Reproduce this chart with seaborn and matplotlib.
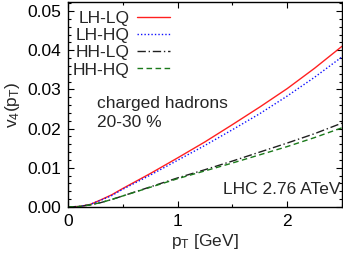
import matplotlib
matplotlib.use("Agg")
import matplotlib.pyplot as plt
import seaborn as sns
import pandas as pd
from matplotlib.ticker import MultipleLocator, FormatStrFormatter

pt = [0.0, 0.1, 0.2, 0.3, 0.4, 0.5, 0.75, 1.0, 1.25, 1.5, 1.75, 2.0, 2.25, 2.5]
lh_lq = [0.0, 0.0001, 0.0006, 0.0018, 0.0031, 0.0047, 0.0085, 0.0125, 0.0166, 0.0210, 0.0255, 0.0302, 0.0354, 0.0410]
lh_hq = [0.0, 0.0001, 0.0006, 0.0017, 0.0029, 0.0045, 0.0081, 0.0119, 0.0157, 0.0197, 0.0238, 0.0283, 0.0331, 0.0383]
hh_lq = [0.0, 0.0001, 0.0005, 0.0011, 0.0019, 0.0028, 0.0051, 0.0074, 0.0095, 0.0117, 0.0140, 0.0163, 0.0187, 0.0214]
hh_hq = [0.0, 0.0001, 0.0005, 0.0011, 0.0019, 0.0028, 0.0050, 0.0072, 0.0092, 0.0112, 0.0133, 0.0154, 0.0177, 0.0202]

labels = ["LH-LQ", "LH-HQ", "HH-LQ", "HH-HQ"]
series = [lh_lq, lh_hq, hh_lq, hh_hq]
colors = ["#ff2020", "#1010ff", "#202020", "#1a7a1a"]
dashes = [(None, None), (1, 1.5), (6, 2, 1, 2), (4, 2.5)]

sns.set_style("ticks")
plt.rcParams['font.family'] = ['Liberation Sans', 'DejaVu Sans']
plt.rcParams['mathtext.fontset'] = 'custom'
plt.rcParams['mathtext.rm'] = 'Liberation Sans'
plt.rcParams['mathtext.it'] = 'Liberation Sans'

FS = 12.5
fig = plt.figure(figsize=(3.43, 2.58), dpi=100)
ax = fig.add_axes([0.198, 0.198, 0.799, 0.794])

for lab, ys, c, d in zip(labels, series, colors, dashes):
    df = pd.DataFrame({"pt": pt, "v4": ys})
    sns.lineplot(data=df, x="pt", y="v4", ax=ax, color=c, lw=1.0, label=lab)
    l = ax.get_lines()[-1]
    if d[0] is not None:
        l.set_dashes(d)

ax.set_xlim(0, 2.5)
ax.set_ylim(0, 0.0523)
ax.xaxis.set_major_locator(MultipleLocator(1))
ax.xaxis.set_minor_locator(MultipleLocator(0.5))
ax.yaxis.set_major_locator(MultipleLocator(0.01))
ax.yaxis.set_minor_locator(MultipleLocator(0.002))
ax.yaxis.set_major_formatter(FormatStrFormatter("%.2f"))
ax.tick_params(which="both", direction="in", top=True, right=True, labelsize=FS, colors="black")
ax.tick_params(which="major", length=4.5, width=0.8, pad=5)
ax.tick_params(which="minor", length=2.5, width=0.8)
for s in ax.spines.values():
    s.set_linewidth(1.0)
    s.set_color("black")

ax.set_xlabel("p$_\\mathrm{T}$ [GeV]", fontsize=FS, labelpad=2)
ax.set_ylabel("v$_4$(p$_\\mathrm{T}$)", fontsize=FS, labelpad=4)

leg = ax.legend(loc="upper left", frameon=False, markerfirst=False, fontsize=FS,
                handlelength=1.9, handletextpad=0.45, labelspacing=0.12,
                borderaxespad=0.0, borderpad=0.2, bbox_to_anchor=(0.005, 0.975))

ax.text(0.105, 0.505, "charged hadrons", transform=ax.transAxes, fontsize=FS, va="center")
ax.text(0.105, 0.41, "20-30 %", transform=ax.transAxes, fontsize=FS, va="center")
ax.text(0.993, 0.085, "LHC 2.76 ATeV", transform=ax.transAxes, fontsize=FS, ha="right", va="center")

fig.savefig("out.png", dpi=100)
